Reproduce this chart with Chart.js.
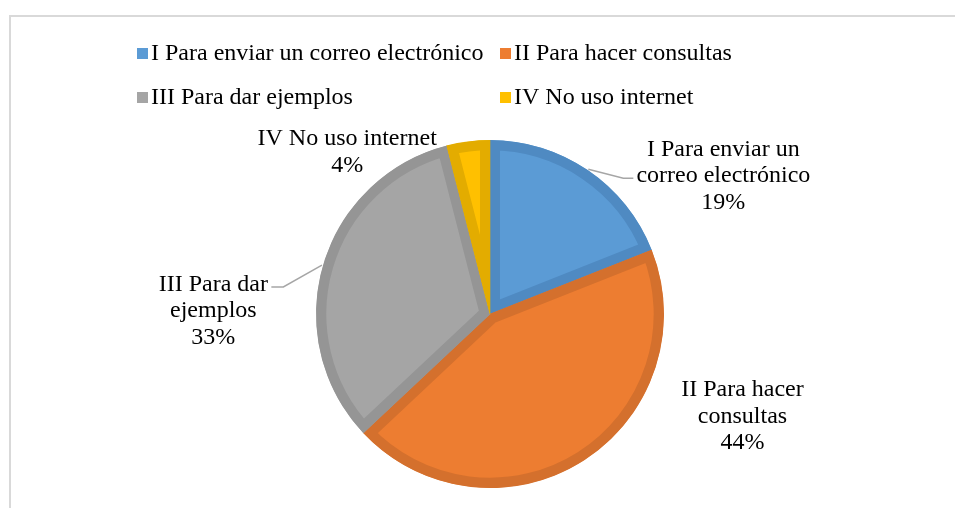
<!DOCTYPE html>
<html><head><meta charset="utf-8">
<script src="https://cdn.jsdelivr.net/npm/chart.js@4.4.1/dist/chart.umd.min.js"></script>
<style>html,body{margin:0;padding:0;background:#fff;overflow:hidden}#wrap{width:955px;height:508px;position:relative}</style>
</head><body><div id="wrap"><canvas id="c" width="955" height="508"></canvas></div>
<script>
// ---- data ----
const categories = ['I Para enviar un correo electrónico', 'II Para hacer consultas', 'III Para dar ejemplos', 'IV No uso internet'];
const percentages = [19, 44, 33, 4];
const dataLabelLines = [['I Para enviar un', 'correo electrónico'], ['II Para hacer', 'consultas'], ['III Para dar', 'ejemplos'], ['IV No uso internet']];

// ---- styles ----
const fillColors = ['#5B9BD5', '#ED7D31', '#A5A5A5', '#FFC000'];
const edgeColors = ['#4F8AC2', '#D4702D', '#959595', '#E3AC00'];
const FONT = '24px "Liberation Serif", "Times New Roman", serif';
const TEXT = '#000000';

// label placement relative to pie centre, in units of radius; leader offsets relative to label centre (px)
const placement = [
  {rx: 1.341, ry: -0.798, leader: {elbow: [-100, 3], end: [-90, 3]}},
  {rx: 1.451, ry: 0.584},
  {rx: -1.590, ry: -0.023, leader: {elbow: [70, -23], end: [58, -23]}},
  {rx: -0.821, ry: -0.936}
];

const framePlugin = {
  id: 'frame',
  beforeDraw(chart) {
    const ctx = chart.ctx;
    ctx.save();
    ctx.fillStyle = '#fff';
    ctx.fillRect(0, 0, chart.width, chart.height);
    ctx.strokeStyle = '#d9d9d9';
    ctx.lineWidth = 2;
    ctx.strokeRect(10, 16, 2000, 2000);
    ctx.restore();
  }
};

const legendPlugin = {
  id: 'gridLegend',
  afterDraw(chart) {
    const ctx = chart.ctx;
    const cols = [137, 500], rows = [53, 97];
    ctx.save();
    ctx.font = FONT;
    ctx.textBaseline = 'middle';
    ctx.textAlign = 'left';
    categories.forEach((c, i) => {
      const x = cols[i % 2], y = rows[Math.floor(i / 2)];
      ctx.fillStyle = fillColors[i];
      ctx.fillRect(x, y - 5, 11, 11);
      ctx.fillStyle = TEXT;
      ctx.fillText(c, x + 14, y + 1);
    });
    ctx.restore();
  }
};

const labelPlugin = {
  id: 'pieLabels',
  afterDatasetsDraw(chart) {
    const ctx = chart.ctx;
    const meta = chart.getDatasetMeta(0);
    const total = percentages.reduce((a, b) => a + b, 0);
    ctx.save();
    ctx.font = FONT;
    ctx.textAlign = 'center';
    ctx.textBaseline = 'middle';
    meta.data.forEach((arc, i) => {
      const p = arc.getProps(['x', 'y', 'outerRadius', 'startAngle', 'endAngle'], true);
      const cfg = placement[i];
      const lx = p.x + cfg.rx * p.outerRadius;
      const ly = p.y + cfg.ry * p.outerRadius;
      const lines = dataLabelLines[i].concat([Math.round(percentages[i] / total * 100) + '%']);
      const lh = 26.5;
      const y0 = ly - (lines.length - 1) * lh / 2;
      if (cfg.leader) {
        const mid = (p.startAngle + p.endAngle) / 2;
        const R = p.outerRadius + 1;
        ctx.strokeStyle = '#a6a6a6';
        ctx.lineWidth = 1.5;
        ctx.beginPath();
        ctx.moveTo(p.x + Math.cos(mid) * R, p.y + Math.sin(mid) * R);
        ctx.lineTo(lx + cfg.leader.elbow[0], ly + cfg.leader.elbow[1]);
        ctx.lineTo(lx + cfg.leader.end[0], ly + cfg.leader.end[1]);
        ctx.stroke();
      }
      ctx.fillStyle = TEXT;
      lines.forEach((t, k) => ctx.fillText(t, lx, y0 + k * lh + 1));
    });
    ctx.restore();
  }
};

new Chart(document.getElementById('c'), {
  type: 'pie',
  data: {
    labels: categories,
    datasets: [{
      data: percentages,
      backgroundColor: fillColors,
      borderColor: edgeColors,
      borderWidth: 10,
      borderAlign: 'inner',
      hoverOffset: 0,
      hoverBorderWidth: 10
    }]
  },
  options: {
    responsive: false,
    animation: false,
    events: [],
    radius: 174,
    layout: {padding: {left: 25, top: 120, right: 0, bottom: 0}},
    plugins: {legend: {display: false}, tooltip: {enabled: false}}
  },
  plugins: [framePlugin, labelPlugin, legendPlugin]
});
</script>
</body></html>
